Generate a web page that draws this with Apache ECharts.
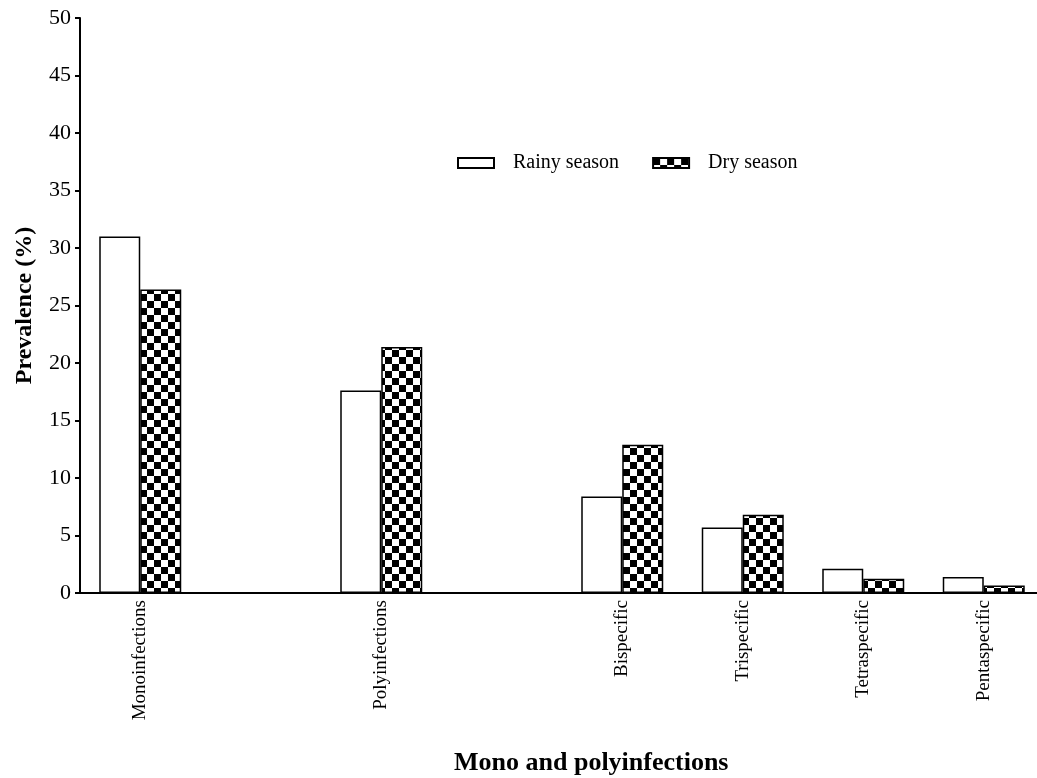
<!DOCTYPE html>
<html><head><meta charset="utf-8">
<script src="https://cdn.jsdelivr.net/npm/echarts@6/dist/echarts.min.js"></script>
<style>html,body{margin:0;padding:0;background:#fff}#c{width:1037px;height:778px}</style>
</head><body><div id="c"></div>
<script>
// Categories ('' = empty gap slot on the axis)
var categories = ['Monoinfections', '', 'Polyinfections', '', 'Bispecific', 'Trispecific', 'Tetraspecific', 'Pentaspecific'];
var rainySeason = [31.0, null, 17.6, null, 8.4, 5.7, 2.1, 1.4];
var drySeason   = [26.4, null, 21.4, null, 12.9, 6.8, 1.25, 0.65];
var yTicks = [0, 5, 10, 15, 20, 25, 30, 35, 40, 45, 50];

var FONT = '"Liberation Serif", "Times New Roman", serif';

function checker() {
  var c = document.createElement('canvas');
  c.width = 14; c.height = 14;
  var g = c.getContext('2d');
  g.fillStyle = '#fff'; g.fillRect(0, 0, 14, 14);
  g.fillStyle = '#000'; g.fillRect(0, 0, 7, 7); g.fillRect(7, 7, 7, 7);
  return c;
}
var pattern = { image: checker(), repeat: 'repeat' };

var chart = echarts.init(document.getElementById('c'), null, { renderer: 'canvas' });
chart.setOption({
  animation: false,
  backgroundColor: '#fff',
  textStyle: { fontFamily: FONT, color: '#000' },
  title: {
    text: 'Mono and polyinfections',
    left: 449, top: 745,
    textStyle: { fontFamily: FONT, fontWeight: 'bold', fontSize: 26, color: '#000' }
  },
  legend: {
    left: 452, top: 148,
    itemWidth: 36, itemHeight: 10, itemGap: 33,
    icon: 'rect',
    textStyle: { fontFamily: FONT, fontSize: 20, color: '#000', padding: [0, 0, 0, 14] },
    data: ['Rainy season', 'Dry season']
  },
  grid: { left: 80, width: 964, top: 18, bottom: 185, containLabel: false, outerBoundsMode: 'none' },
  xAxis: {
    type: 'category',
    data: categories,
    boundaryGap: true,
    axisLine: { show: true, lineStyle: { color: '#000', width: 2 } },
    axisTick: { show: false },
    axisLabel: { rotate: 90, interval: 0, margin: 7, fontFamily: FONT, fontSize: 19, color: '#000' }
  },
  yAxis: {
    type: 'value',
    min: yTicks[0], max: yTicks[yTicks.length - 1], interval: 5,
    name: 'Prevalence (%)',
    nameLocation: 'middle',
    nameGap: 43,
    nameTextStyle: { fontFamily: FONT, fontWeight: 'bold', fontSize: 24, color: '#000' },
    axisLine: { show: true, lineStyle: { color: '#000', width: 2 } },
    axisTick: { show: true, inside: false, length: 5, lineStyle: { color: '#000', width: 2 } },
    axisLabel: { margin: 9, fontFamily: FONT, fontSize: 22, color: '#000' },
    splitLine: { show: false }
  },
  series: [
    {
      name: 'Rainy season', type: 'bar', data: rainySeason,
      barWidth: 41, barGap: '0%',
      itemStyle: { color: '#fff', borderColor: '#000', borderWidth: 1.5 }
    },
    {
      name: 'Dry season', type: 'bar', data: drySeason,
      barWidth: 41, barGap: '0%',
      itemStyle: { color: pattern, borderColor: '#000', borderWidth: 1.5 }
    }
  ]
});
</script></body></html>
